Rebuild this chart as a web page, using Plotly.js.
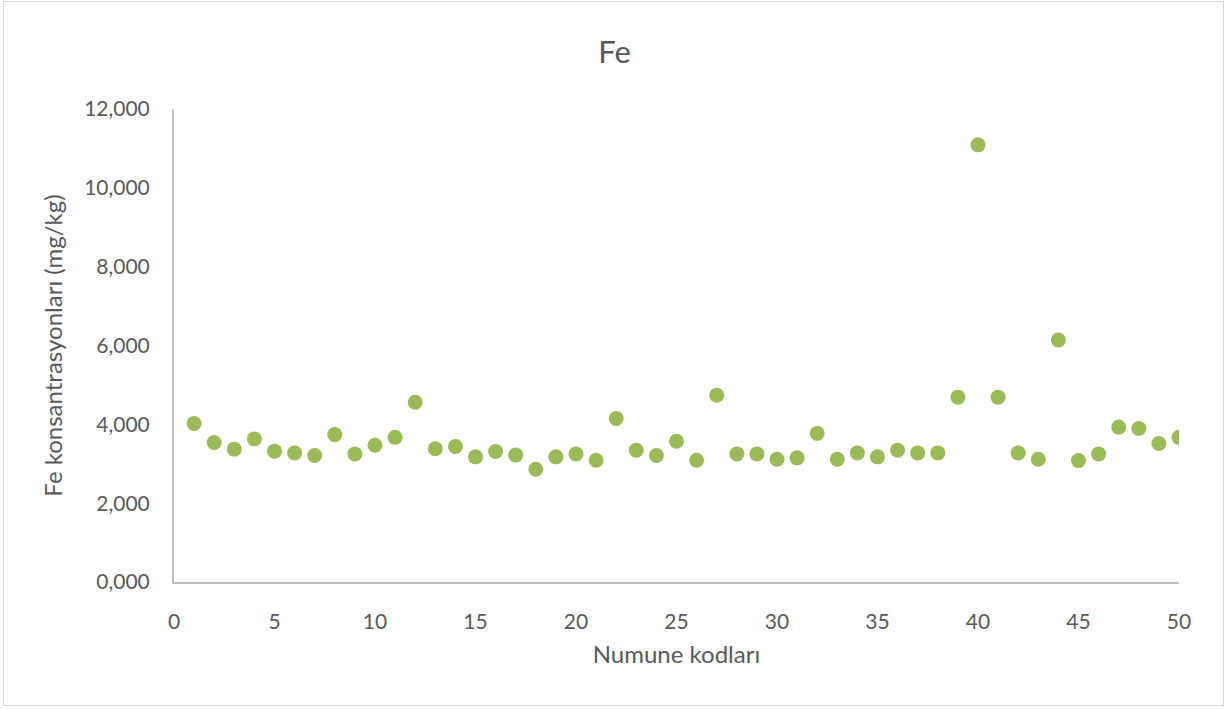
<!DOCTYPE html>
<html>
<head>
<meta charset="utf-8">
<script src="https://cdn.plot.ly/plotly-3.0.1.min.js"></script>
<style>
  html, body { margin: 0; padding: 0; background: #ffffff; }
  #frame { position: absolute; left: 3px; top: 1px; width: 1219px; height: 703px; border: 1.5px solid #d9d9d9; }
  #chart { position: absolute; left: 0; top: 0; width: 1229px; height: 709px; }
</style>
</head>
<body>
<div id="frame"></div>
<div id="chart"></div>
<script>
const sampleCodes = [1,2,3,4,5,6,7,8,9,10,11,12,13,14,15,16,17,18,19,20,21,22,23,24,25,26,27,28,29,30,31,32,33,34,35,36,37,38,39,40,41,42,43,44,45,46,47,48,49,50];
const feValues = [4020,3540,3370,3630,3320,3275,3210,3740,3250,3470,3670,4560,3380,3440,3175,3310,3220,2860,3175,3250,3090,4150,3345,3210,3570,3090,4740,3250,3250,3115,3150,3770,3115,3275,3175,3345,3275,3275,4690,11090,4690,3275,3115,6140,3080,3250,3930,3895,3515,3670];
const yTickVals = [0,2000,4000,6000,8000,10000,12000];
const yTickText = ["0,000","2,000","4,000","6,000","8,000","10,000","12,000"];
const xTickVals = [0,5,10,15,20,25,30,35,40,45,50];

const font = "Lato, 'Open Sans', sans-serif";
const trace = {
  x: sampleCodes,
  y: feValues,
  type: 'scatter',
  mode: 'markers',
  marker: { color: '#9bbb59', size: 15, line: { width: 0 } },
  hoverinfo: 'x+y'
};
const layout = {
  width: 1229, height: 709,
  paper_bgcolor: 'rgba(0,0,0,0)', plot_bgcolor: 'rgba(0,0,0,0)',
  margin: { l: 174, r: 50, t: 109, b: 127 },
  showlegend: false,
  title: { text: 'Fe', x: 0.5, xanchor: 'center', y: 0.927, yanchor: 'middle',
           font: { family: font, size: 31, color: '#595959' } },
  xaxis: {
    range: [0, 50], tickvals: xTickVals, showgrid: false, zeroline: false,
    showline: true, linecolor: '#bfbfbf', linewidth: 2,
    ticks: '', ticklabelstandoff: 20,
    tickfont: { family: font, size: 21, color: '#595959' },
    title: { text: 'Numune kodları', standoff: 14, font: { family: font, size: 24, color: '#595959' } }
  },
  yaxis: {
    range: [0, 12000], tickvals: yTickVals, ticktext: yTickText, showgrid: false, zeroline: false,
    showline: true, linecolor: '#bfbfbf', linewidth: 2,
    ticks: '', ticklabelstandoff: 18,
    tickfont: { family: font, size: 21, color: '#595959' },
    title: { text: 'Fe konsantrasyonları (mg/kg)', standoff: 15, font: { family: font, size: 24, color: '#595959' } }
  }
};
Plotly.newPlot('chart', [trace], layout, { displayModeBar: false, staticPlot: false });
</script>
</body>
</html>
